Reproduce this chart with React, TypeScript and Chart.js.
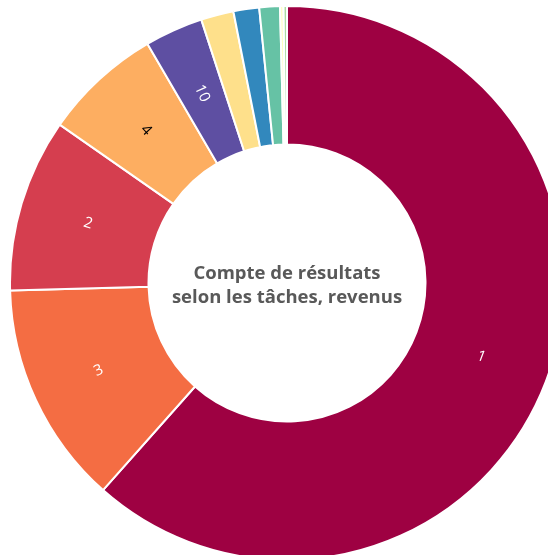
import React, { useEffect, useRef } from "react";
import { Chart, registerables } from "chart.js";

Chart.register(...registerables);

const categories = ["1", "3", "2", "4", "10", "5", "9", "8", "6", "7"];
const values = [61.5, 13.0, 10.1, 6.9, 3.4, 1.9, 1.5, 1.2, 0.2, 0.2];
const colors = ["#9e0142", "#f46d43", "#d53e4f", "#fdae61", "#5e4fa2", "#fee08b", "#3288bd", "#66c2a5", "#ffffbf", "#abdda4"];
const labelColors = ["#ffffff", "#ffffff", "#ffffff", "#000000", "#ffffff", "#000000", "#ffffff", "#000000", "#000000", "#000000"];
const shownLabels = [true, true, true, true, true, false, false, false, false, false];
const centerLines = ["Compte de résultats", "selon les tâches, revenus"];

const SIZE = 556;

const sliceLabels = {
  id: "sliceLabels",
  afterDatasetsDraw(chart: any) {
    const ctx = chart.ctx;
    const meta = chart.getDatasetMeta(0);
    meta.data.forEach((arc: any, i: number) => {
      if (!shownLabels[i]) return;
      const { x, y, startAngle, endAngle, innerRadius, outerRadius } = arc.getProps(
        ["x", "y", "startAngle", "endAngle", "innerRadius", "outerRadius"],
        true
      );
      const mid = (startAngle + endAngle) / 2;
      const r = (innerRadius + outerRadius) / 2;
      const px = x + Math.cos(mid) * r;
      const py = y + Math.sin(mid) * r;
      let rot = mid;
      while (rot > Math.PI / 2) rot -= Math.PI;
      while (rot <= -Math.PI / 2) rot += Math.PI;
      ctx.save();
      ctx.translate(px, py);
      ctx.rotate(rot);
      ctx.fillStyle = labelColors[i];
      ctx.font = "15px 'Open Sans', sans-serif";
      ctx.textAlign = "center";
      ctx.textBaseline = "middle";
      ctx.fillText(categories[i], 0, 0);
      ctx.restore();
    });
  },
};

const centerText = {
  id: "centerText",
  afterDraw(chart: any) {
    const ctx = chart.ctx;
    const arc = chart.getDatasetMeta(0).data[0];
    if (!arc) return;
    const cx = arc.x;
    const cy = arc.y;
    ctx.save();
    ctx.fillStyle = "#595959";
    ctx.font = "700 18.5px 'Open Sans', sans-serif";
    ctx.textAlign = "center";
    ctx.textBaseline = "middle";
    ctx.fillText(centerLines[0], cx, cy - 9);
    ctx.fillText(centerLines[1], cx, cy + 15);
    ctx.restore();
  },
};

export default function App() {
  const ref = useRef<HTMLCanvasElement | null>(null);
  useEffect(() => {
    if (!ref.current) return;
    const chart = new Chart(ref.current, {
      type: "doughnut",
      data: {
        labels: categories,
        datasets: [
          {
            data: values,
            backgroundColor: colors,
            borderColor: "#ffffff",
            borderWidth: 2,
          },
        ],
      },
      options: {
        responsive: false,
        animation: false,
        cutout: "50%",
        layout: { padding: 0 },
        plugins: {
          legend: { display: false },
          tooltip: { enabled: false },
          title: { display: false },
        },
      },
      plugins: [sliceLabels, centerText],
    });
    return () => chart.destroy();
  }, []);
  return (
    <div
      style={{
        position: "fixed",
        left: 0,
        top: 0,
        width: 548,
        height: 555,
        overflow: "hidden",
        background: "#ffffff",
      }}
    >
      <canvas
        ref={ref}
        width={SIZE}
        height={SIZE}
        style={{ position: "absolute", left: 9, top: 5, width: SIZE, height: SIZE }}
      />
    </div>
  );
}
